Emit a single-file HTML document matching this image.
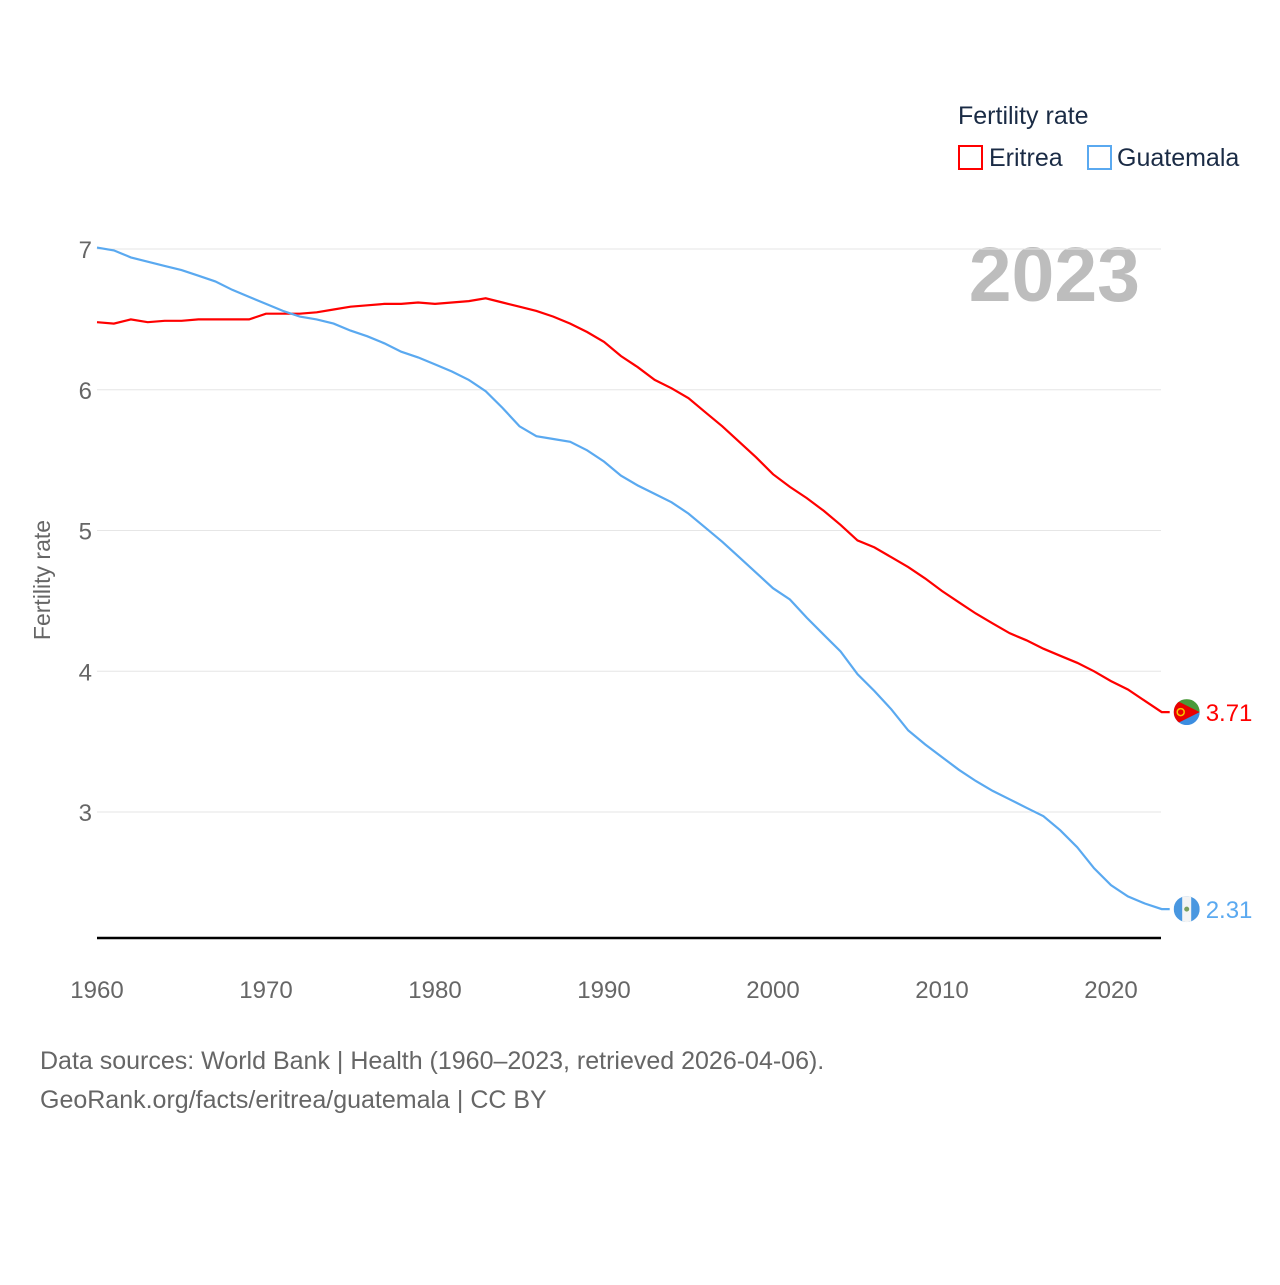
<!DOCTYPE html>
<html><head><meta charset="utf-8"><style>
body{margin:0;background:#fff;font-family:"Liberation Sans",sans-serif;}
svg text{font-family:"Liberation Sans",sans-serif;}
</style></head><body>
<svg id="chart" width="1280" height="1280" viewBox="0 0 1280 1280">
<defs>
<clipPath id="c1"><circle cx="0" cy="0" r="13"/></clipPath>
</defs>
<g>
<text x="958" y="124" font-size="25" fill="#1a2b45">Fertility rate</text>
<rect x="959" y="146" width="23" height="23" fill="none" stroke="#ff0000" stroke-width="2"/>
<text x="989" y="166" font-size="25" fill="#1a2b45">Eritrea</text>
<rect x="1088" y="146" width="23" height="23" fill="none" stroke="#5aa9f0" stroke-width="2"/>
<text x="1117" y="166" font-size="25" fill="#1a2b45">Guatemala</text>
</g>
<text x="1140" y="301" font-size="77" font-weight="bold" fill="#bdbdbd" text-anchor="end">2023</text>
<text transform="translate(50,580) rotate(-90)" font-size="23" fill="#666" text-anchor="middle">Fertility rate</text>
<g id="grid"></g><g id="yticks"></g><g id="xticks"></g><g id="lines"></g>
<line x1="97" y1="938" x2="1161" y2="938" stroke="#000" stroke-width="2.5"/>
<text x="40" y="1069" font-size="25" fill="#666">Data sources: World Bank | Health (1960–2023, retrieved 2026-04-06).</text>
<text x="40" y="1108" font-size="25" fill="#666">GeoRank.org/facts/eritrea/guatemala | CC BY</text>
</svg>
<script>
const years=[];for(let y=1960;y<=2023;y++)years.push(y);
const eritrea=[6.48,6.47,6.50,6.48,6.49,6.49,6.50,6.50,6.50,6.50,6.54,6.54,6.54,6.55,6.57,6.59,6.60,6.61,6.61,6.62,6.61,6.62,6.63,6.65,6.62,6.59,6.56,6.52,6.47,6.41,6.34,6.24,6.16,6.07,6.01,5.94,5.84,5.74,5.63,5.52,5.40,5.31,5.23,5.14,5.04,4.93,4.88,4.81,4.74,4.66,4.57,4.49,4.41,4.34,4.27,4.22,4.16,4.11,4.06,4.00,3.93,3.87,3.79,3.71];
const guatemala=[7.01,6.99,6.94,6.91,6.88,6.85,6.81,6.77,6.71,6.66,6.61,6.56,6.52,6.50,6.47,6.42,6.38,6.33,6.27,6.23,6.18,6.13,6.07,5.99,5.87,5.74,5.67,5.65,5.63,5.57,5.49,5.39,5.32,5.26,5.20,5.12,5.02,4.92,4.81,4.70,4.59,4.51,4.38,4.26,4.14,3.98,3.86,3.73,3.58,3.48,3.39,3.30,3.22,3.15,3.09,3.03,2.97,2.87,2.75,2.60,2.48,2.40,2.35,2.31];
const yTicks=[3,4,5,6,7];
const xTicks=[1960,1970,1980,1990,2000,2010,2020];
const NS="http://www.w3.org/2000/svg";
const xs=y=>97+(y-1960)*(1111-97)/60;
const ys=v=>249+(7-v)*(812-249)/4;
function mk(t,a,p){const e=document.createElementNS(NS,t);for(const k in a)e.setAttribute(k,a[k]);p.appendChild(e);return e;}
const grid=document.getElementById('grid'),yt=document.getElementById('yticks'),xt=document.getElementById('xticks'),ln=document.getElementById('lines');
yTicks.forEach(v=>{
 const g=mk('line',{x1:97,x2:1161,y1:ys(v),y2:ys(v),stroke:'#e6e6e6','stroke-width':1},grid);
 
 
 const t=mk('text',{x:92,y:ys(v)+9,'font-size':24,fill:'#666','text-anchor':'end'},yt);t.textContent=v;
 
 
});
xTicks.forEach(v=>{
 const t=mk('text',{x:xs(v),y:998,'font-size':24,fill:'#666','text-anchor':'middle'},xt);t.textContent=v;
 
 
});
function series(data,color,name){
 const cx=xs(2023)+25;
 const d=data.map((v,i)=>(i?'L':'M')+xs(years[i]).toFixed(1)+','+ys(v).toFixed(1)).join('')+'l8,0';
 const p=mk('path',{d:d,fill:'none',stroke:color,'stroke-width':2.2},ln);
 
 
 const last=data[data.length-1];
 const cy=ys(last);
 const g=mk('g',{transform:'translate('+cx+','+cy+')','clip-path':'url(#c1)'},ln);
 
 
 if(name==='eritrea'){
  mk('rect',{x:-13,y:-13,width:26,height:13,fill:'#4a9a3a'},g);
  mk('rect',{x:-13,y:0,width:26,height:13,fill:'#3b8de0'},g);
  mk('polygon',{points:'-13,-13 13,0 -13,13',fill:'#ea0000'},g);
  mk('circle',{cx:-6,cy:0,r:3.5,fill:'none',stroke:'#f5c400','stroke-width':1.5},g);
 } else {
  mk('rect',{x:-13,y:-13,width:26,height:26,fill:'#4997e0'},g);
  mk('rect',{x:-4.5,y:-13,width:9,height:26,fill:'#f4f4f4'},g);
  mk('circle',{cx:0,cy:0,r:2.5,fill:'#7aa060'},g);
 }
 const t=mk('text',{x:cx+19,y:cy+9,'font-size':24,fill:color},ln);t.textContent=last.toFixed(2);
 
 
}
series(eritrea,'#ff0000','eritrea');
series(guatemala,'#5aa9f0','guatemala');
</script>
</body></html>
